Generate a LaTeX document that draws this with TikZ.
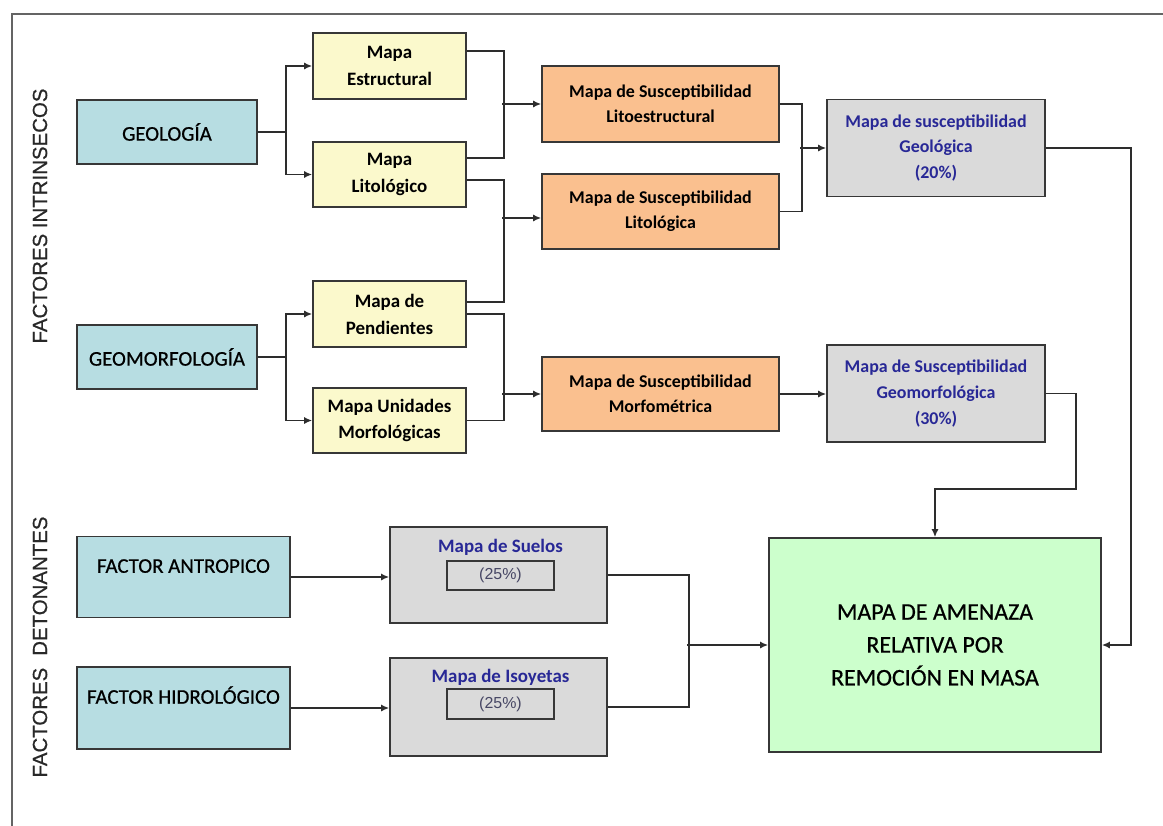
\documentclass[tikz,border=0pt]{standalone}
\usepackage{fontspec}
\setmainfont{Carlito}
\newfontfamily\semib[FakeBold=0.6]{Carlito}
\newfontfamily\arialf{Liberation Sans}
\newfontfamily\arialsb[FakeBold=0.6]{Liberation Sans}
\usetikzlibrary{arrows.meta,calc}
\definecolor{bluebox}{RGB}{183,221,226}
\definecolor{yellowbox}{RGB}{251,249,204}
\definecolor{orangebox}{RGB}{250,192,143}
\definecolor{graybox}{RGB}{218,218,218}
\definecolor{greenbox}{RGB}{204,255,204}
\definecolor{edgec}{RGB}{55,55,55}
\definecolor{linec}{RGB}{45,45,45}
\definecolor{bluetext}{RGB}{40,40,150}
\definecolor{pcttext}{RGB}{70,70,100}
\definecolor{framec}{RGB}{100,100,100}
\begin{document}
\begin{tikzpicture}[x=1bp,y=-1bp,
  box/.style={draw=edgec, line width=1.6bp, inner sep=0pt, align=center, text=black},
  factorbox/.style={box, fill=bluebox, minimum width=180bp, minimum height=64bp, font=\semib\fontsize{21}{25}\selectfont},
  trigbox/.style={box, fill=bluebox, minimum width=213bp, font=\semib\fontsize{21}{25}\selectfont},
  mapbox/.style={box, fill=yellowbox, minimum width=153bp, minimum height=66bp, font=\bfseries\fontsize{19}{27}\selectfont},
  suscbox/.style={box, fill=orangebox, minimum width=237bp, minimum height=75bp, font=\bfseries\fontsize{18}{25}\selectfont},
  resbox/.style={box, fill=graybox, minimum width=218bp, minimum height=97bp, text=bluetext, font=\bfseries\fontsize{18}{26}\selectfont},
  lowbox/.style={box, fill=graybox, minimum width=217bp},
  lowtitle/.style={inner sep=0pt, text=bluetext, font=\bfseries\fontsize{19}{23}\selectfont},
  pctbox/.style={box, fill=graybox, minimum width=107bp, minimum height=29bp, line width=1.4bp, text=pcttext, font=\arialf\fontsize{16}{19}\selectfont},
  finalbox/.style={box, fill=greenbox, minimum width=332bp, minimum height=214bp, font=\semib\fontsize{24}{33}\selectfont},
  sidelabel/.style={rotate=90, inner sep=0pt, text={rgb,255:red,40;green,40;blue,40}, font=\arialsb\fontsize{20.5}{24}\selectfont},
  conn/.style={draw=linec, line width=1.7bp},
  arr/.style={conn, -{Latex[length=8bp,width=7bp]}}
]
\useasboundingbox (0,0) rectangle (1163,826);
\fill[white] (0,0) rectangle (1163,826);
% frame
\draw[framec, line width=1.5bp] (12,826) -- (12,14) -- (1163,14);

% side labels
\node[sidelabel] (lblint) at (40,216) {FACTORES INTRINSECOS};
\node[sidelabel] (lbldet) at (40,647) {FACTORES\hspace{12bp}DETONANTES};

% factor boxes
\node[factorbox] (geo) at (167,132) {GEOLOGÍA};
\node[factorbox] (geom) at (167,357) {GEOMORFOLOGÍA};

% yellow maps
\node[mapbox] (estr) at (389.5,66) {Mapa\\Estructural};
\node[mapbox, minimum height=65bp] (lito) at (389.5,174.5) {Mapa\\Litológico};
\node[mapbox] (pend) at (389.5,314) {Mapa de\\Pendientes};
\node[mapbox, minimum height=65bp] (unid) at (389.5,420.5) {Mapa Unidades\\Morfológicas};

% orange susceptibility
\node[suscbox, minimum height=76bp] (olitoe) at (660.5,104) {Mapa de Susceptibilidad\\Litoestructural};
\node[suscbox] (olito) at (660.5,211.5) {Mapa de Susceptibilidad\\Litológica};
\node[suscbox, minimum height=74bp] (omorf) at (660.5,394) {Mapa de Susceptibilidad\\Morfométrica};

% gray results
\node[resbox] (ggeol) at (936,148) {Mapa de susceptibilidad\\Geológica\\(20\%)};
\node[resbox] (ggeom) at (936,393.5) {Mapa de Susceptibilidad\\Geomorfológica\\(30\%)};

% trigger factors
\node[trigbox, minimum height=81bp, text depth=22bp] (antr) at (183.5,577) {FACTOR ANTROPICO};
\node[trigbox, minimum height=82bp, text depth=26bp] (hidro) at (183.5,708) {FACTOR HIDROLÓGICO};

% lower gray boxes
\node[lowbox, minimum height=96bp] (suelos) at (498.5,575) {};
\node[lowtitle] (suelost) at ($(suelos.north)+(2,21)$) {Mapa de Suelos};
\node[pctbox] (suelosp) at (500.5,575.5) {(25\%)};
\node[lowbox, minimum height=98bp] (isoy) at (498.5,707) {};
\node[lowtitle] (isoyt) at ($(isoy.north)+(2,20)$) {Mapa de Isoyetas};
\node[pctbox, minimum height=30bp] (isoyp) at (500.5,704) {(25\%)};

% final
\node[finalbox] (final) at (935,645) {MAPA DE AMENAZA\\RELATIVA POR\\REMOCIÓN EN MASA};

% connectors: factors to maps
\draw[arr] (geo.east) -- ++(28,0) |- (estr.west);
\draw[arr] (geo.east) -- ++(28,0) |- (lito.west);
\draw[arr] (geom.east) -- ++(28,0) |- (pend.west);
\draw[arr] (geom.east) -- ++(28,0) |- (unid.west);

% maps to susceptibility
\draw[conn] ($(estr.east)+(0,-15)$) -- ++(37,0) |- ($(lito.east)+(0,-16.5)$);
\draw[arr] ($(olitoe.west)+(-39,0)$) -- (olitoe.west);
\draw[conn] ($(lito.east)+(0,5.5)$) -- ++(37,0) |- ($(pend.east)+(0,-12)$);
\draw[arr] ($(olito.west)+(-39,6.5)$) -- ($(olito.west)+(0,6.5)$);
\draw[conn] (pend.east) -- ++(37,0) |- (unid.east);
\draw[arr] ($(omorf.west)+(-39,0)$) -- (omorf.west);

% susceptibility to results
\draw[conn] (olitoe.east) -- ++(22,0) |- (olito.east);
\draw[arr] ($(ggeol.west)+(-26,0)$) -- (ggeol.west);
\draw[arr] (omorf.east) -- (omorf.east -| ggeom.west);

% results to final
\draw[arr] (ggeol.east) -- ++(85,0) |- (final.east);
\draw[arr] (ggeom.east) -- ++(30,0) -- ++(0,95.5) -| (final.north);

% triggers
\draw[arr] (antr.east) -- (antr.east -| suelos.west);
\draw[arr] (hidro.east) -- (hidro.east -| isoy.west);
\draw[conn] (suelos.east) -- ++(81,0) |- (isoy.east);
\draw[arr] ($(final.west)+(-81,0)$) -- (final.west);
\end{tikzpicture}
\end{document}
